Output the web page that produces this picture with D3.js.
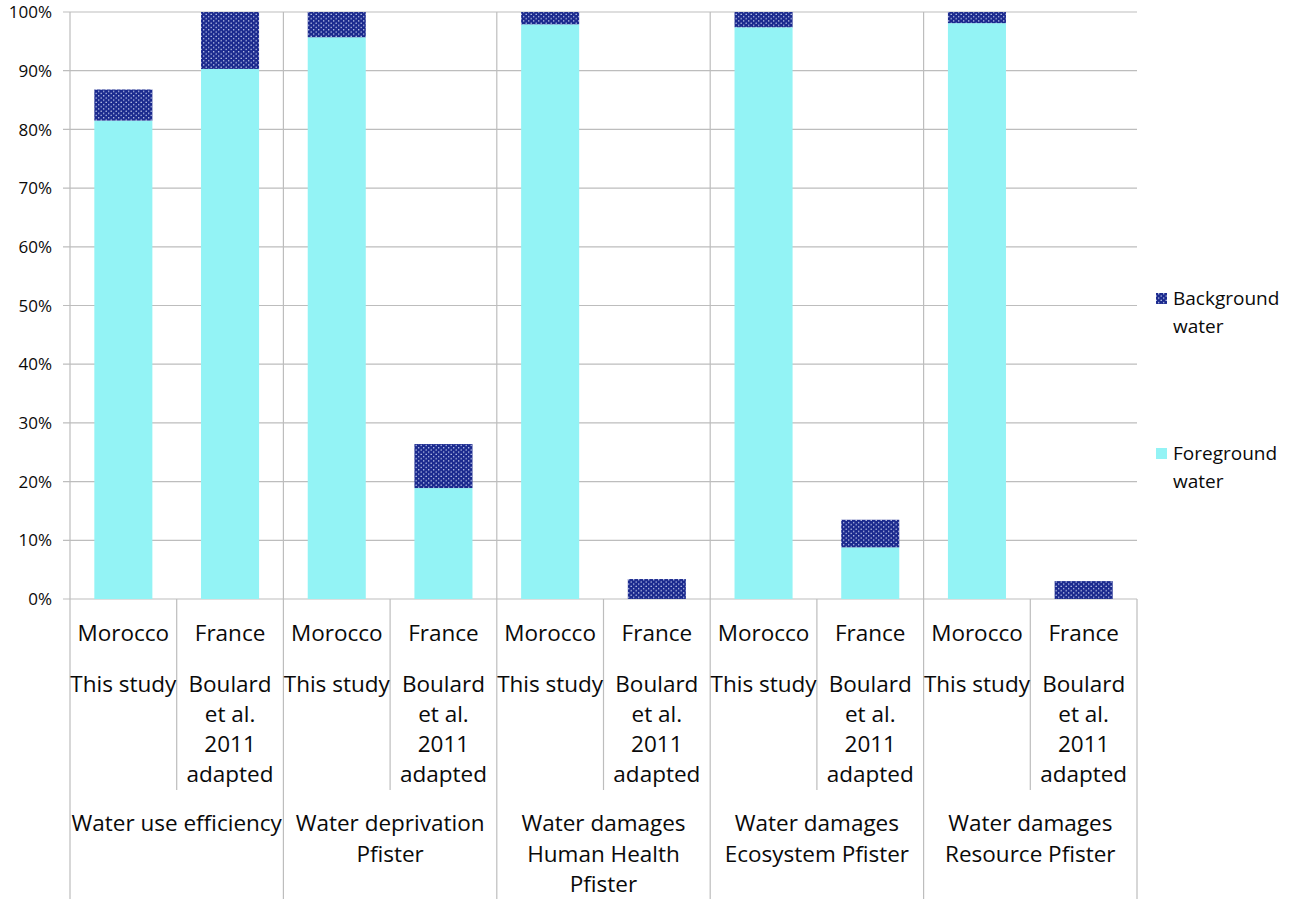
<!DOCTYPE html>
<html><head><meta charset="utf-8">
<script src="https://cdn.jsdelivr.net/npm/d3@7"></script>
<style>body{margin:0;background:#fff}svg{display:block}text{font-family:"Open Sans",sans-serif;fill:#0a0a0a}</style>
</head><body>
<svg id="c" width="1298" height="899"></svg>
<script>
const countries = ["Morocco","France","Morocco","France","Morocco","France","Morocco","France","Morocco","France"];
const sources = [["This study"],["Boulard","et al.","2011","adapted"],["This study"],["Boulard","et al.","2011","adapted"],["This study"],["Boulard","et al.","2011","adapted"],["This study"],["Boulard","et al.","2011","adapted"],["This study"],["Boulard","et al.","2011","adapted"]];
const groups = [["Water use efficiency"],["Water deprivation","Pfister"],["Water damages","Human Health","Pfister"],["Water damages","Ecosystem Pfister"],["Water damages","Resource Pfister"]];
const foreground = [81.5, 90.3, 95.7, 18.9, 97.9, 0, 97.4, 8.8, 98.1, 0];
const background = [5.3, 9.7, 4.3, 7.5, 2.1, 3.4, 2.6, 4.7, 1.9, 3.05];
const yTicks = [0,10,20,30,40,50,60,70,80,90,100];
const seriesNames = ["Background water","Foreground water"];

const svg = d3.select("#c");
const L = 70, R = 1137, T = 12, B = 599;
const idx = d3.range(countries.length);
const x = d3.scaleBand().domain(idx).range([L, R]).paddingInner(0.456).paddingOuter(0.228);
const y = d3.scaleLinear().domain([0, 100]).range([B, T]);
const step = x.step();

const defs = svg.append("defs");
const pat = defs.append("pattern").attr("id","dots").attr("patternUnits","userSpaceOnUse").attr("width",5).attr("height",4.4);
pat.append("rect").attr("width",5).attr("height",4.4).attr("fill","#1b2a8e");
pat.append("circle").attr("cx",1.2).attr("cy",1.1).attr("r",0.75).attr("fill","#c8d0f0");
pat.append("circle").attr("cx",3.7).attr("cy",3.3).attr("r",0.75).attr("fill","#c8d0f0");

const grid = "#bdbdbd";
svg.append("g").selectAll("line").data(yTicks).join("line")
  .attr("x1", L - 7).attr("x2", R).attr("y1", d => y(d)).attr("y2", d => y(d))
  .attr("stroke", grid).attr("stroke-width", 1.2);
svg.append("g").selectAll("text").data(yTicks).join("text")
  .attr("x", 52).attr("y", d => y(d)).attr("dy","0.36em").attr("text-anchor","end")
  .style("font-size","17px").text(d => d + "%");

const groupEdges = d3.range(groups.length + 1).map(g => L + g * 2 * step);
svg.append("g").selectAll("line").data(groupEdges).join("line")
  .attr("x1", d => d).attr("x2", d => d).attr("y1", (d,i) => i === groups.length ? B : T).attr("y2", 899)
  .attr("stroke", grid).attr("stroke-width", 1.2);
svg.append("g").selectAll("line").data(d3.range(groups.length)).join("line")
  .attr("x1", g => L + (2*g+1) * step).attr("x2", g => L + (2*g+1) * step)
  .attr("y1", B).attr("y2", 790)
  .attr("stroke", grid).attr("stroke-width", 1.2);

const bars = svg.append("g");
bars.selectAll(".fg").data(idx).join("rect").attr("class","fg")
  .attr("x", i => x(i)).attr("width", x.bandwidth())
  .attr("y", i => y(foreground[i])).attr("height", i => y(0) - y(foreground[i]))
  .attr("fill", "#93f3f5");
bars.selectAll(".bg").data(idx).join("rect").attr("class","bg")
  .attr("x", i => x(i)).attr("width", x.bandwidth())
  .attr("y", i => y(foreground[i] + background[i])).attr("height", i => y(foreground[i]) - y(foreground[i] + background[i]))
  .attr("fill", "url(#dots)");

const lab = svg.append("g").style("font-size","22.5px").attr("text-anchor","middle");
idx.forEach(i => {
  const cx = x(i) + x.bandwidth()/2;
  lab.append("text").attr("x", cx).attr("y", 641).text(countries[i]);
  sources[i].forEach((s, k) => lab.append("text").attr("x", cx).attr("y", 692 + k * 30).text(s));
});
groups.forEach((g, gi) => {
  const cx = L + (2*gi+1) * step;
  g.forEach((s, k) => lab.append("text").attr("x", cx).attr("y", 831 + k * 30.5).text(s));
});

const leg = svg.append("g").style("font-size","19px");
const legY = [298, 453];
const legFill = ["url(#dots)", "#93f3f5"];
seriesNames.forEach((n, i) => {
  leg.append("rect").attr("x", 1156).attr("y", legY[i] - 5).attr("width", 11).attr("height", 11).attr("fill", legFill[i]);
  const parts = n.split(" ");
  parts.forEach((p, k) => leg.append("text").attr("x", 1173).attr("y", legY[i] + k * 28).attr("dy","0.36em").text(p));
});
</script>
</body></html>
